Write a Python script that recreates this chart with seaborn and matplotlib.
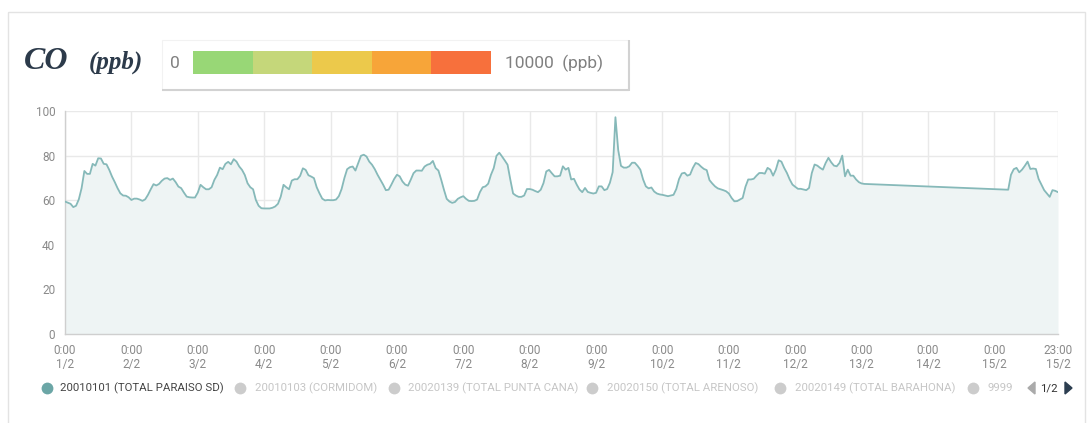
import numpy as np
import pandas as pd
import matplotlib
matplotlib.use("Agg")
import matplotlib.pyplot as plt
import seaborn as sns
from matplotlib.patches import Rectangle, Polygon

# ---------------- data (hourly CO, ppb) ----------------
feb01 = [59.4, 58.9, 58.4, 56.9, 57.5, 60.4, 65.4, 73.1, 71.8, 71.8, 76.3, 75.5,
         78.8, 78.7, 76.3, 76.1, 73.6, 70.6, 68.1, 65.4, 63.1, 62.1, 62.0, 61.3]
feb02 = [60.1, 60.7, 60.7, 60.3, 59.7, 60.4, 62.4, 64.9, 67.2, 66.6, 67.3, 68.7,
         69.7, 69.9, 69.1, 69.7, 68.1, 66.1, 65.4, 63.4, 61.6, 61.3, 61.2, 61.2]
feb03 = [63.4, 66.9, 65.8, 64.9, 64.9, 65.8, 69.1, 71.3, 74.6, 73.9, 76.3, 77.2,
         76.1, 78.4, 77.3, 75.1, 73.6, 71.3, 67.6, 65.8, 64.9, 60.1, 57.5, 56.4]
feb04 = [56.3, 56.3, 56.3, 56.6, 57.2, 58.4, 61.6, 66.9, 65.8, 64.9, 68.8, 69.4,
         69.4, 70.9, 74.3, 73.6, 71.2, 70.6, 69.9, 65.8, 63.1, 60.7, 59.9, 60.1]
feb05 = [60.0, 60.0, 60.3, 61.8, 65.0, 69.9, 73.9, 74.8, 75.1, 73.3, 76.6, 79.9,
         80.4, 79.6, 77.3, 75.9, 73.9, 71.4, 69.2, 67.0, 64.5, 64.7, 67.0, 69.5]
feb06 = [71.4, 70.7, 68.4, 67.0, 66.5, 69.2, 72.1, 73.3, 73.3, 73.2, 75.1, 75.9,
         76.3, 77.6, 74.4, 73.3, 69.2, 64.7, 60.6, 59.4, 58.8, 59.2, 60.6, 61.3]
feb07 = [61.8, 60.6, 59.7, 59.6, 59.7, 60.3, 63.6, 65.8, 66.2, 67.4, 71.4, 74.4,
         79.9, 81.3, 79.6, 77.8, 75.9, 69.2, 63.0, 62.1, 61.5, 61.5, 62.1, 65.0]
feb08 = [65.0, 64.7, 64.1, 63.6, 64.7, 67.7, 72.9, 73.6, 72.1, 70.7, 70.7, 71.0,
         75.2, 73.7, 74.5, 69.3, 69.6, 67.0, 64.8, 63.6, 65.5, 63.7, 63.3, 63.0]
feb09 = [63.3, 66.2, 66.2, 64.5, 65.0, 67.8, 72.6, 97.2, 82.5, 75.4, 74.6, 74.6,
         75.2, 76.8, 76.8, 75.4, 73.7, 69.3, 66.2, 65.3, 65.7, 63.9, 63.0, 62.6]
feb10 = [62.4, 62.1, 61.8, 62.1, 62.4, 65.0, 69.5, 72.0, 72.3, 71.0, 71.5, 74.5,
         76.7, 76.2, 75.0, 74.0, 73.5, 69.0, 67.5, 66.2, 65.3, 64.9, 64.5, 64.0]
feb11 = [63.0, 61.0, 59.5, 59.6, 60.3, 61.0, 66.0, 69.3, 69.3, 69.6, 71.0, 72.2,
         72.2, 71.9, 74.5, 73.7, 71.0, 73.7, 77.9, 77.3, 74.5, 72.2, 69.3, 67.0]
feb12 = [66.0, 65.1, 65.1, 64.8, 64.5, 65.5, 72.2, 76.0, 75.5, 74.5, 73.7, 76.7,
         79.0, 77.0, 75.5, 75.2, 76.7, 80.0, 70.7, 73.7, 71.0, 71.0, 69.3, 68.1]
feb13 = [67.5, 67.3]
feb15 = [64.7, 71.4, 73.9, 74.5, 72.5, 73.7, 75.4, 77.3, 74.0, 74.2, 74.0, 69.5,
         67.0, 64.5, 63.0, 61.5, 64.5, 64.2, 63.6]          # hours 5..23

series_by_day = {1: feb01, 2: feb02, 3: feb03, 4: feb04, 5: feb05, 6: feb06,
                 7: feb07, 8: feb08, 9: feb09, 10: feb10, 11: feb11, 12: feb12,
                 13: feb13, 15: feb15}
first_hour = {15: 5}

scale_colors = ["#98d776", "#c5d77a", "#ecc94b", "#f7a539", "#f7703c"]
scale_min, scale_max, unit = "0", "10000", "(ppb)"

legend_names = ["20010101 (TOTAL PARAISO SD)", "20010103 (CORMIDOM)",
                "20020139 (TOTAL PUNTA CANA)", "20020150 (TOTAL ARENOSO)",
                "20020149 (TOTAL BARAHONA)", "9999"]

# ---------------- build frame ----------------
rows = []
for d, vals in series_by_day.items():
    h0 = first_hour.get(d, 0)
    for i, v in enumerate(vals):
        rows.append((pd.Timestamp(2021, 2, d, h0 + i), v))
df = pd.DataFrame(rows, columns=["time", "co"])

# ---------------- style ----------------
sns.set_theme(style="whitegrid")
plt.rcParams["font.family"] = ["Roboto", "DejaVu Sans"]

W, H = 1091, 423
fig = plt.figure(figsize=(W / 100, H / 100), dpi=100)
fig.patch.set_facecolor("white")

# overlay in pixel coordinates
ov = fig.add_axes([0, 0, 1, 1], zorder=0)
ov.set_xlim(0, W)
ov.set_ylim(H, 0)
ov.axis("off")

# card border
ov.add_patch(Rectangle((8, 12), 1077, 430, facecolor="none",
                       edgecolor="#e3e3e3", lw=1.0))

# title
ov.text(24, 69, "CO", family="Liberation Serif", style="italic",
        weight="bold", fontsize=23, color="#2c3a4a", va="baseline")
ov.text(89, 69, "(ppb)", family="Liberation Serif", style="italic",
        weight="bold", fontsize=18, color="#2c3a4a", va="baseline")

# colour scale box
ov.add_patch(Rectangle((162, 40), 466, 50, facecolor="white",
                       edgecolor="#f2f2f2", lw=0.8))
ov.plot([162, 629], [90.5, 90.5], color="#d2d2d2", lw=1.5,
        solid_capstyle="butt")
ov.plot([628.5, 628.5], [40, 91], color="#d2d2d2", lw=1.5,
        solid_capstyle="butt")
seg_w = (491 - 193) / len(scale_colors)
for i, c in enumerate(scale_colors):
    ov.add_patch(Rectangle((193 + i * seg_w, 51), seg_w, 23,
                           facecolor=c, edgecolor="none"))
ov.text(175, 63, scale_min, fontsize=12.5, color="#808080", ha="center",
        va="center")
ov.text(505, 63, scale_max + "  " + unit, fontsize=12.5, color="#808080",
        ha="left", va="center")

# ---------------- main chart ----------------
ax = fig.add_axes([65 / W, (H - 334) / H, (1058 - 65) / W, (334 - 111) / H],
                  zorder=1)
line_color = "#86b9b9"
ax.fill_between(df["time"], df["co"], 0, color="#eef4f4", lw=0, zorder=1)
sns.lineplot(data=df, x="time", y="co", ax=ax, color=line_color,
             linewidth=1.3, estimator=None, zorder=3)

t0 = pd.Timestamp(2021, 2, 1)
t1 = pd.Timestamp(2021, 2, 15, 23)
ax.set_xlim(t0, t1)
ax.set_ylim(0, 100)
ticks = list(pd.date_range(t0, pd.Timestamp(2021, 2, 15), freq="D")) + [t1]
ax.set_xticks(ticks)
ax.set_xticklabels([f"{t.hour}:{t.minute:02d}\n{t.day}/{t.month}" for t in ticks],
                   linespacing=1.15)
ax.set_yticks(np.arange(0, 101, 20))
ax.set_xlabel("")
ax.set_ylabel("")
ax.set_facecolor("white")
ax.grid(True, color="#e9e9e9", lw=1.0)
ax.set_axisbelow(True)
for s in ["top", "right"]:
    ax.spines[s].set_visible(False)
for s in ["left", "bottom"]:
    ax.spines[s].set_visible(True)
    ax.spines[s].set_color("#cfcfcf")
    ax.spines[s].set_linewidth(1.0)
ax.tick_params(axis="both", colors="#cfcfcf", labelcolor="#8a8a8a",
               labelsize=8.5, length=5, width=1, direction="out")
ax.tick_params(axis="y", pad=2)
ax.tick_params(axis="x", pad=2)

# ---------------- bottom legend ----------------
circ_x = [47, 240, 394, 592, 780, 973]
text_x = [60, 255, 408, 607, 795, 987]
ly = 388
for i, name in enumerate(legend_names):
    active = i == 0
    ov.plot([circ_x[i]], [ly], "o", ms=8.5,
            color="#6ba6a6" if active else "#cccccc", mec="none")
    ov.text(text_x[i], ly, name, fontsize=8.2,
            color="#444444" if active else "#c6c6c6", va="center", ha="left")
ov.add_patch(Polygon([[1028, ly], [1035, ly - 6], [1035, ly + 6]],
                     closed=True, color="#aaaaaa"))
ov.text(1049, ly, "1/2", fontsize=8.2, color="#333333", ha="center",
        va="center")
ov.add_patch(Polygon([[1072, ly], [1065, ly - 6], [1065, ly + 6]],
                     closed=True, color="#2c3e50"))

fig.savefig("out.png", dpi=100, facecolor="white")
